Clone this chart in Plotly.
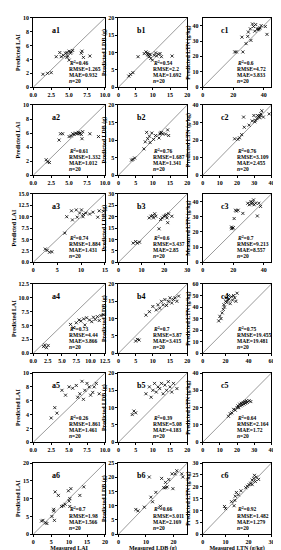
import plotly.graph_objects as go
from plotly.subplots import make_subplots

# ---------------- data ----------------
a1_x = [1.35, 2.0, 2.5, 3.2, 3.7, 3.9, 4.2, 4.5, 4.7, 4.8, 5.0, 5.2, 5.3, 5.5, 5.0, 6.7, 6.8, 7.0, 7.9, 4.7]
a1_y = [1.86, 2.0, 2.1, 4.4, 5.0, 4.4, 4.6, 4.9, 5.0, 4.5, 5.2, 4.9, 5.1, 5.3, 3.9, 4.9, 5.2, 4.3, 4.5, 4.3]
b1_x = [3.0, 3.5, 4.2, 5.7, 7.5, 8.0, 8.5, 8.7, 9.0, 9.2, 9.4, 9.9, 10.4, 10.8, 11.1, 11.6, 12.1, 12.5, 15.6, 8.5]
b1_y = [3.2, 3.7, 4.2, 8.8, 9.7, 10.2, 9.9, 9.2, 8.8, 9.5, 8.3, 7.8, 9.2, 9.9, 9.0, 9.5, 9.7, 8.8, 9.0, 9.4]
c1_x = [21, 22.1, 26.3, 25.7, 28.4, 29.5, 29.9, 31.2, 31.6, 32.6, 33.3, 34.1, 35.8, 36.2, 36.8, 37.5, 38.3, 41, 42.1, 34.7]
c1_y = [22.9, 22.9, 22.9, 32.5, 28.3, 33, 35.8, 37.9, 30.4, 41.1, 39.4, 36.4, 37.9, 37.3, 37.9, 38.5, 40, 39.4, 34.3, 40.7]

a2_x = [1.8, 2.0, 2.25, 3.6, 3.8, 4.1, 5.0, 5.3, 5.5, 5.9, 6.1, 6.3, 6.5, 6.7, 6.8, 6.9, 7.9, 9.1, 5.7, 6.4]
a2_y = [2.2, 1.9, 1.8, 5.0, 5.9, 5.9, 5.5, 5.6, 5.9, 6.0, 5.9, 6.1, 6.0, 5.8, 5.2, 6.2, 5.9, 5.5, 5.8, 5.9]
b2_x = [3.8, 4.2, 4.7, 7.4, 7.8, 8.2, 8.5, 9.0, 9.2, 9.7, 10.2, 10.8, 11.8, 12.3, 12.5, 12.9, 13.7, 14.3, 14.6, 12.1]
b2_y = [4.3, 4.5, 4.9, 7.5, 9.5, 12.2, 10.4, 11.1, 9.3, 12.0, 10.2, 11.3, 10.6, 12.0, 12.2, 11.8, 11.7, 12.9, 11.3, 11.7]
c2_x = [18.6, 20.5, 21.4, 22.7, 24.2, 23.8, 27, 28.8, 29.8, 30.3, 30.7, 31.6, 32.6, 33.1, 33.5, 33.9, 34.4, 35.3, 38.7, 32]
c2_y = [20.7, 20.4, 21.3, 23.1, 27.3, 33.1, 28.5, 30.9, 34, 30.4, 31.3, 32.2, 33.5, 32.7, 34, 34.9, 36.7, 33.1, 34.9, 34]

a3_x = [2.5, 2.9, 3.4, 3.9, 6.6, 7.0, 8.0, 8.2, 9.0, 9.2, 9.7, 10.1, 10.4, 10.5, 11.0, 11.8, 12.5, 13.5, 13.8, 14.7]
a3_y = [2.9, 2.6, 2.2, 2.3, 6.4, 10.0, 11.3, 9.3, 11.5, 9.9, 10.8, 11.5, 10.0, 10.5, 10.8, 10.6, 11.0, 9.9, 11.3, 11.2]
b3_x = [6.4, 7.5, 8.2, 9.2, 13.4, 14.2, 14.9, 15.3, 15.8, 16.3, 17.7, 18.4, 19.1, 19.8, 20.5, 20.9, 21.2, 21.5, 21.9, 23.3]
b3_y = [8.4, 9.1, 8.4, 8.8, 19.5, 20.2, 20.5, 19.5, 21.3, 20.2, 14.7, 18.8, 19.5, 20.2, 20.5, 20.9, 19.5, 17.4, 21.3, 20.2]
c3_x = [18.9, 19.6, 18.9, 20, 20.6, 21.5, 22.1, 23.2, 26.3, 29.5, 30.5, 31.6, 32, 32.6, 33.3, 33.7, 34.7, 36.8, 37.9, 35.8]
c3_y = [23.2, 22.5, 22.1, 22.7, 28.8, 34.3, 33.7, 34.3, 32.2, 38.9, 37.9, 40, 38.5, 39.4, 41.1, 37.9, 38.9, 38.9, 36.8, 30.5]

a4_x = [1.8, 2.0, 2.3, 2.6, 6.5, 7.0, 7.5, 8.0, 8.3, 8.8, 9.0, 9.3, 9.8, 10.2, 10.5, 10.8, 11.2, 11.5, 11.8, 12.2]
a4_y = [1.2, 1.5, 1.0, 1.4, 5.2, 4.6, 5.5, 6.0, 5.8, 6.2, 5.1, 6.4, 6.0, 5.7, 6.5, 6.1, 6.6, 5.9, 6.8, 7.0]
b4_x = [5, 5.5, 6, 8, 9, 10, 11, 11.5, 12, 12.5, 13, 13.5, 14, 14.5, 15, 15.5, 16, 16.5, 17, 17.5]
b4_y = [3.5, 4, 3.8, 11, 12, 13.5, 12.5, 14, 13, 15, 14, 15.5, 13.8, 15, 16, 14.5, 15.5, 16, 15, 16.5]
c4_x = [14, 15, 16, 17, 18, 18.5, 19, 20, 20.5, 21, 22, 22.5, 23, 24, 25, 26, 27, 28, 29, 30]
c4_y = [28, 32, 30, 35, 38, 42, 40, 45, 48, 44, 46, 50, 47, 43, 49, 46, 50, 48, 45, 52]

a5_x = [2.5, 3.0, 3.3, 4.0, 4.5, 5.0, 5.5, 6.0, 6.2, 6.5, 6.8, 7.0, 7.2, 7.5, 7.8, 8.0, 8.3, 8.5, 8.8, 9.2]
a5_y = [3.5, 5.0, 4.2, 7.5, 6.8, 8.0, 7.8, 8.2, 6.5, 7.0, 8.8, 6.2, 7.5, 8.5, 8.0, 6.8, 7.2, 8.0, 8.5, 7.0]
b5_x = [4, 4.5, 5, 8, 9, 9.5, 10, 10.5, 11, 11.5, 12, 12.5, 13, 13.5, 14, 14.5, 15, 15.5, 16, 17]
b5_y = [8, 9, 8.5, 14, 16, 13, 15, 17, 14.5, 16, 15.5, 17, 14, 16.5, 15, 17.5, 16, 14.5, 17, 15.5]
c5_x = [15, 16, 17, 18, 19, 20, 20.5, 21, 21.5, 22, 22.5, 23, 23.5, 24, 24.5, 25, 25.5, 26, 27, 28]
c5_y = [15, 16.5, 17, 19, 18.5, 20, 21, 20, 22, 21, 22.5, 21.5, 23, 22, 23.5, 22.5, 24, 23, 24, 23.5]

a6_x = [2.3, 2.7, 3.4, 3.8, 5.2, 5.7, 5.7, 5.9, 6.1, 7.0, 7.9, 8.4, 8.9, 9.8, 10.0, 10.2, 10.2, 10.5, 13.0, 14.1]
a6_y = [3.7, 3.9, 3.2, 3.0, 5.0, 6.5, 7.0, 3.9, 11.9, 10.9, 7.8, 8.0, 8.4, 12.2, 9.3, 10.0, 7.8, 12.8, 10.9, 13.3]
b6_x = [6.3, 7.1, 9.4, 11.2, 11.8, 12.4, 13.6, 15.3, 15.7, 16.5, 17.1, 17.7, 18.3, 19.5, 19.8, 20.6, 21.2, 23.0, 23.4, 17.1]
b6_y = [8.7, 8.2, 9.5, 20.1, 13.0, 11.4, 14.7, 9.8, 19.6, 16.3, 18.2, 16.6, 19.2, 21.2, 16.0, 21.2, 22.3, 21.2, 20.1, 16.3]
c6_x = [9.5, 10, 12.6, 13.7, 14, 14.2, 14.7, 15.6, 16.7, 18.8, 19.5, 20.2, 20.9, 21.6, 22.3, 22.6, 23.0, 23.4, 24.4, 21.6]
c6_y = [11.7, 10.8, 13.7, 12.0, 14.3, 16.0, 17.6, 16.6, 18.3, 19.6, 20.2, 20.9, 21.5, 22.8, 23.5, 24.8, 22.2, 24.1, 23.1, 20.9]

panel_labels = ["a1", "b1", "c1", "a2", "b2", "c2", "a3", "b3", "c3",
                "a4", "b4", "c4", "a5", "b5", "c5", "a6", "b6", "c6"]
r2_vals = ["0.46", "0.54", "0.6", "0.61", "0.76", "0.76", "0.74", "0.6", "0.7",
           "0.73", "0.7", "0.75", "0.26", "0.39", "0.64", "0.7", "0.66", "0.92"]
rmse_vals = ["1.265", "2.2", "4.72", "1.332", "1.687", "3.109", "1.884", "3.437", "9.213",
             "4.44", "3.87", "19.455", "1.861", "5.08", "2.164", "1.98", "3.011", "1.482"]
mae_vals = ["0.932", "1.692", "3.833", "1.012", "1.341", "2.455", "1.431", "2.85", "8.557",
            "3.866", "3.415", "19.481", "1.461", "4.183", "1.72", "1.566", "2.169", "1.279"]
n_vals = ["20"] * 18

y_titles = ["Predicted LAI", "Predicted LDB (g)", "Predicted LTN (g/kg)"] * 6
y_titles[8] = "Measured LTN (g/kg)"
x_titles = ["Measured LAI", "Measured LDB (g)", "Measured LTN (g/kg)"]

# axis settings: (range_max, x_dtick, y_dtick, x_format, y_format)
axes_cfg = [
    (10, 2.5, 2, ".1f", "d"), (20, 5, 5, "d", "d"), (45, 20, 10, "d", "d"),
    (10, 2.5, 2, ".1f", "d"), (20, 5, 5, "d", "d"), (40, 10, 10, "d", "d"),
    (15, 5, 2.5, "d", ".1f"), (30, 10, 5, "d", "d"), (45, 20, 10, "d", "d"),
    (12.5, 2.5, 2.5, ".1f", ".1f"), (20, 5, 5, "d", "d"), (60, 20, 10, "d", "d"),
    (10, 2.5, 2, ".1f", "d"), (20, 5, 5, "d", "d"), (40, 10, 10, "d", "d"),
    (20, 5, 5, "d", "d"), (25, 10, 5, "d", "d"), (30, 10, 5, "d", "d"),
]

data_x = [a1_x, b1_x, c1_x, a2_x, b2_x, c2_x, a3_x, b3_x, c3_x,
          a4_x, b4_x, c4_x, a5_x, b5_x, c5_x, a6_x, b6_x, c6_x]
data_y = [a1_y, b1_y, c1_y, a2_y, b2_y, c2_y, a3_y, b3_y, c3_y,
          a4_y, b4_y, c4_y, a5_y, b5_y, c5_y, a6_y, b6_y, c6_y]

# ---------------- layout ----------------
W, H = 281, 550
col_px = [(22, 96), (110, 181), (197, 268)]
row_px = [(7, 77), (95, 166), (185, 254), (276, 346), (366, 436), (457, 529)]
FONT = "Liberation Serif"

fig = make_subplots(rows=6, cols=3)

for i in range(18):
    r, c = divmod(i, 3)
    xs, ys = data_x[i], data_y[i]
    rmax, xd, yd, xf, yf = axes_cfg[i]
    fig.add_trace(go.Scatter(x=[0, rmax], y=[0, rmax], mode="lines",
                             line=dict(color="#9a9a9a", width=1),
                             showlegend=False, hoverinfo="skip"),
                  row=r + 1, col=c + 1)
    fig.add_trace(go.Scatter(x=xs, y=ys, mode="markers",
                             marker=dict(symbol="x-thin", size=3,
                                         line=dict(color="black", width=0.8)),
                             showlegend=False),
                  row=r + 1, col=c + 1)
    suffix = "" if i == 0 else str(i + 1)
    x0, x1 = col_px[c]
    y0, y1 = row_px[r]
    xa = dict(domain=[x0 / W, x1 / W], range=[0, rmax], dtick=xd, tick0=0,
              tickformat=xf, showgrid=False, zeroline=False,
              showline=True, mirror=True, linecolor="black", linewidth=1,
              ticks="outside", ticklen=2, tickwidth=1, tickcolor="black",
              tickfont=dict(family=FONT, size=6, color="black", weight="bold"))
    ya = dict(domain=[1 - y1 / H, 1 - y0 / H], range=[0, rmax], dtick=yd, tick0=0,
              tickformat=yf, showgrid=False, zeroline=False,
              showline=True, mirror=True, linecolor="black", linewidth=1,
              ticks="outside", ticklen=2, tickwidth=1, tickcolor="black",
              tickfont=dict(family=FONT, size=6, color="black", weight="bold"),
              title=dict(text="<b>" + y_titles[i] + "</b>", standoff=1,
                         font=dict(family=FONT, size=6, color="black")))
    if r == 5:
        xa["title"] = dict(text="<b>" + x_titles[c] + "</b>", standoff=0,
                           font=dict(family=FONT, size=6, color="black"))
    fig.layout["xaxis" + suffix].update(xa)
    fig.layout["yaxis" + suffix].update(ya)

    xr = "x" + suffix
    yr = "y" + suffix
    fig.add_annotation(xref=xr, yref=yr, x=0.24 * rmax, y=0.82 * rmax,
                       text="<b>" + panel_labels[i] + "</b>",
                       showarrow=False, xanchor="left", yanchor="middle",
                       font=dict(family=FONT, size=8, color="black"))
    stats = ["<b><i>R</i><sup>2</sup>=" + r2_vals[i] + "</b>",
             "<b>RMSE=" + rmse_vals[i] + "</b>",
             "<b>MAE=" + mae_vals[i] + "</b>",
             "<b><i>n</i>=" + n_vals[i] + "</b>"]
    for k, s in enumerate(stats):
        fig.add_annotation(xref=xr, yref=yr, x=0.47 * rmax,
                           y=(0.35 - k * 0.088) * rmax, text=s, showarrow=False,
                           xanchor="left", yanchor="middle",
                           font=dict(family=FONT, size=5.5, color="black"))

fig.update_layout(width=W, height=H, margin=dict(l=0, r=0, t=0, b=0),
                  plot_bgcolor="white", paper_bgcolor="white",
                  font=dict(family=FONT, color="black"))

fig.write_html("out.html")
